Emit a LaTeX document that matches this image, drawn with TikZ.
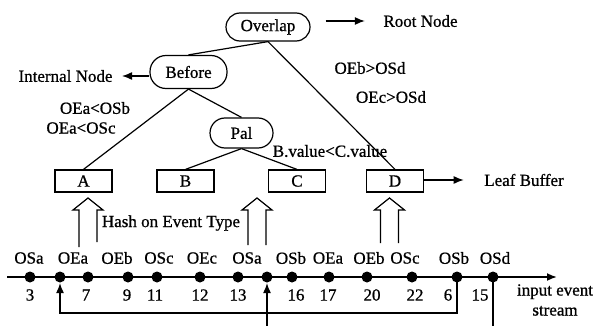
\documentclass[tikz,border=0pt]{standalone}
\usepackage{fontspec}
\setmainfont{Liberation Serif}[FakeBold=0.8]
\usetikzlibrary{shapes,backgrounds}
\usetikzlibrary{arrows,arrows.meta}

% open double-line arrow: x, bottom of left line, bottom of right line
\newcommand{\hasharrow}[3]{%
\draw (#1-9,#2) -- (#1-9,210) -- (#1-15,210) -- (#1,198) -- (#1+15,210) -- (#1+9,210) -- (#1+9,#3);}

\begin{document}
\begin{tikzpicture}[x=1pt, y=-1pt, line width=1.2pt, font=\fontsize{17}{20}\selectfont,
  >={Latex[length=10pt,width=8pt]},
  opnode/.style={draw, rounded corners=14pt, inner sep=0pt},
  leaf/.style={draw, minimum width=57pt, minimum height=22pt, inner sep=0pt},
  lbl/.style={inner sep=0pt},
  evt/.style={circle, fill, inner sep=0pt, minimum size=11pt}]
\useasboundingbox (0,0) rectangle (596,326);

% operator tree
\node[opnode, minimum width=84pt, minimum height=28pt] (overlap) at (268,27) {Overlap};
\node[opnode, minimum width=77pt, minimum height=33pt, rounded corners=16pt] (before) at (188.5,72) {Before};
\node[opnode, minimum width=63pt, minimum height=30pt, rounded corners=15pt] (pal) at (241.5,133) {Pal};
\node[leaf] (A) at (83.5,181) {A};
\node[leaf] (B) at (185.5,181) {B};
\node[leaf] (C) at (297,181) {C};
\node[leaf] (D) at (395,181) {D};
\draw (overlap.south) -- (before.north);
\draw (overlap.south) -- (D.north);
\draw (before.south) -- (A.north);
\draw (before.south) -- (pal.north);
\draw (pal.south) -- (B.north);
\draw (pal.south) -- (C.north);

% side labels
\node[lbl] (rootlbl) at (420.5,21) {Root Node};
\node[lbl] (intlbl) at (65.5,76) {Internal Node};
\node[lbl] (leaflbl) at (524,180) {Leaf Buffer};
\draw[->] ([xshift=15pt]overlap.east |- rootlbl.west) -- ([xshift=-18pt]rootlbl.west);
\draw[->] (before.west |- intlbl.east) -- ([xshift=9pt]intlbl.east);
\draw[->] (D.east |- leaflbl.west) -- ([xshift=-20pt]leaflbl.west);

% predicates
\node[lbl] (predab) at (95,108) {OEa<OSb};
\node[lbl] (predac) at (81,128) {OEa<OSc};
\node[lbl] (predbd) at (370,68) {OEb>OSd};
\node[lbl] (predcd) at (391,97) {OEc>OSd};
\node[lbl] (predbc) at (330,151) {B.value<C.value};
\node[lbl] (hashlbl) at (171,223) {Hash on Event Type};

\hasharrow{88}{247}{242}
\hasharrow{257}{245}{245}
\hasharrow{389.5}{243}{243}

% the stream
\coordinate (start) at (7,277);
\coordinate (end) at (557,277);
\draw[->, line width=1.8pt] (start) -- (end);
\foreach \x [count=\i] in {30,60,88,128,157,200,238,267,292,329,367,412,457,493}
  \node[evt] (e\i) at (\x,277) {};
\foreach \x/\t [count=\i] in {29/OSa,73/OEa,117/OEb,159/OSc,202/OEc,247/OSa,291/OSb,328/OEa,369/OEb,405/OSc,454/OSb,495/OSd}
  \node[lbl] (t\i) at (\x,258) {\t};
\foreach \x/\n [count=\i] in {30/3,86/7,127/9,155/11,200/12,238/13,296/16,328/17,372/20,415/22,448/6,480/15}
  \node[lbl] (n\i) at (\x,295) {\n};
\node[lbl, align=center] (strm) at (555,300) {input event\\stream};

% out of order events re-inserted
\coordinate (fb) at (0,313);
\coordinate (bot) at (0,326);
\draw[->] (e13.center) -- (e13 |- fb) -| (e2.south);
\draw (e14.center) -- (e14 |- bot);
\draw[->] (e8 |- bot) -- (e8.south);
\end{tikzpicture}
\end{document}
